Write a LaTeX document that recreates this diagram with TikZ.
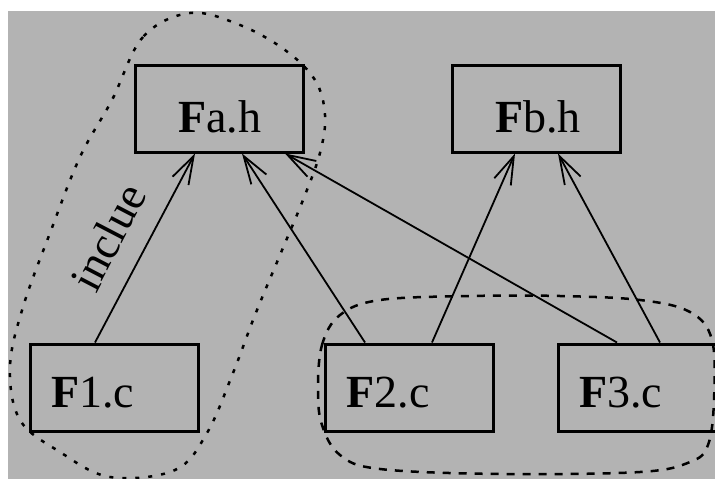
\documentclass[tikz,border=0pt]{standalone}
\usepackage{fontspec}
\setmainfont{Liberation Serif}
\usetikzlibrary{arrows.meta}
\definecolor{bg}{RGB}{179,179,179}
\begin{document}
\begin{tikzpicture}[x=1pt,y=-1pt,
  big/.style={font=\fontsize{46}{50}\selectfont},
  box/.style={big, draw, line width=3pt, minimum width=168pt, minimum height=87pt,
    inner ysep=0pt, align=left, text depth=0pt},
  hbox/.style={box, inner xsep=43pt, text width=82pt, text height=47pt},
  cbox/.style={box, inner xsep=21pt, text width=126pt, text height=39pt},
  arr/.style={line width=1.8pt, -{Straight Barb[length=28pt,width=18pt,line width=1.8pt]}},
  dots1/.style={line width=2.5pt, dash pattern=on 4pt off 9pt},
  dash2/.style={line width=2.5pt, dash pattern=on 8pt off 8pt}]
\useasboundingbox (0,0) rectangle (715,479);
\fill[white] (0,0) rectangle (715,479);
\fill[bg] (8,11) rectangle (715,479);

% group outlines
\draw[dots1] plot[smooth cycle, tension=0.6] coordinates {
  (190,13) (143,37) (112,100) (80,157) (50,233) (23,307) (10,367) (20,420)
  (60,452) (110,477) (175,470) (207,433) (233,373) (255,315) (280,255)
  (303,200) (320,153) (325,115) (315,80) (285,50) (240,25)};
\draw[dash2] plot[smooth cycle, tension=0.6] coordinates {
  (318,390) (322,345) (340,315) (380,300) (470,296) (560,296) (640,300)
  (690,312) (712,340) (714,400) (708,445) (690,462) (640,472) (500,474)
  (380,469) (340,455) (322,425)};

% boxes
\node[hbox] (Fa) at (219,108.5) {\textbf{F}a.h};
\node[hbox] (Fb) at (536,108.5) {\textbf{F}b.h};
\node[cbox] (F1) at (114,387.5) {\textbf{F}1.c};
\node[cbox] (F2) at (409.5,387.5) {\textbf{F}2.c};
\node[cbox] (F3) at (642,387.5) {\textbf{F}3.c};

% connectors
\draw[arr] ([xshift=-19pt]F1.north) -- ([xshift=-24pt]Fa.south);
\draw[arr] ([xshift=-44.5pt]F2.north) -- ([xshift=23pt]Fa.south);
\draw[arr] ([xshift=-25pt]F3.north) -- ([xshift=66pt]Fa.south);
\draw[arr] ([xshift=22.5pt]F2.north) -- ([xshift=-21pt]Fb.south);
\draw[arr] ([xshift=18pt]F3.north) -- ([xshift=22pt]Fb.south);

% label
\node[big, rotate=62.5, inner sep=0pt] (lab) at (108,237) {inclue};
\end{tikzpicture}
\end{document}
